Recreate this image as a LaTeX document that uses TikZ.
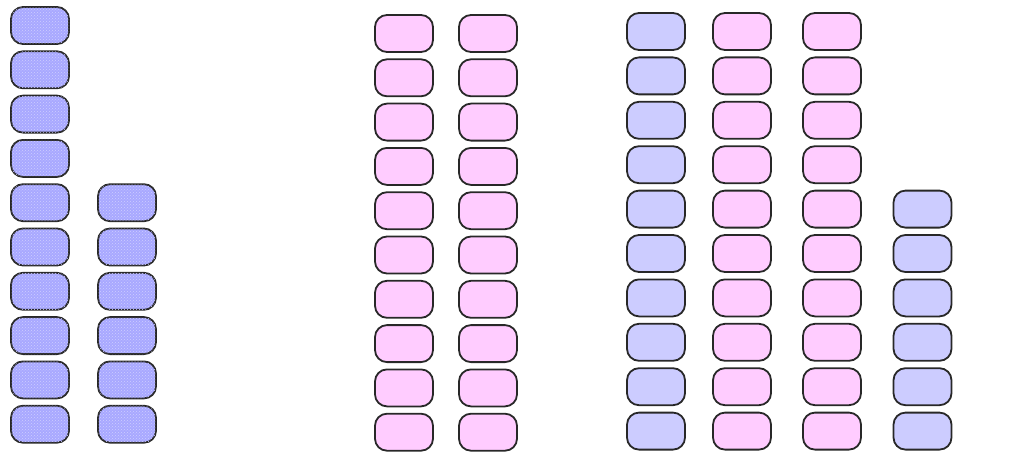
\documentclass[tikz,border=0pt]{standalone}
\usetikzlibrary{patterns}
\definecolor{bluebead}{RGB}{204,204,255}
\definecolor{pinkbead}{RGB}{255,204,255}
\definecolor{bluedot}{RGB}{168,168,255}
\definecolor{beadline}{RGB}{40,40,40}
\tikzset{
  bead/.style={draw=beadline, line width=1.8pt, rounded corners=12pt,
    minimum width=58pt, minimum height=37pt, inner sep=0pt},
  dotbead/.style={bead, fill=bluedot,
    postaction={pattern=crosshatch dots, pattern color=bluedot!55!white}},
  bluebox/.style={bead, fill=bluebead},
  pinkbox/.style={bead, fill=pinkbead}
}
\begin{document}
\begin{tikzpicture}[x=1pt,y=-1pt]
    \useasboundingbox (0,0) rectangle (1010,452);
    % Grupo 1: 10 y 6
    \foreach \r in {0,...,9}
        \node[dotbead] (a1-\r) at (40,25.5+44.3*\r) {};
    \foreach \r in {4,...,9}
        \node[dotbead] (a2-\r) at (127,25.5+44.3*\r) {};

    % Grupo 2: dos decenas
    \foreach \x/\c in {404/1,488/2}
        \foreach \r in {0,...,9}
            \node[pinkbox] (b\c-\r) at (\x,33.5+44.3*\r) {};

    % Grupo 3: decenas y unidades
    \foreach \r in {0,...,9} {
        \node[bluebox] (c1-\r) at (656,31.5+44.4*\r) {};
        \node[pinkbox] (c2-\r) at (742,31.5+44.4*\r) {};
        \node[pinkbox] (c3-\r) at (832,31.5+44.4*\r) {};
    }
    \foreach \r in {4,...,9}
        \node[bluebox] (c4-\r) at (922.5,31.5+44.4*\r) {};
\end{tikzpicture}
\end{document}
